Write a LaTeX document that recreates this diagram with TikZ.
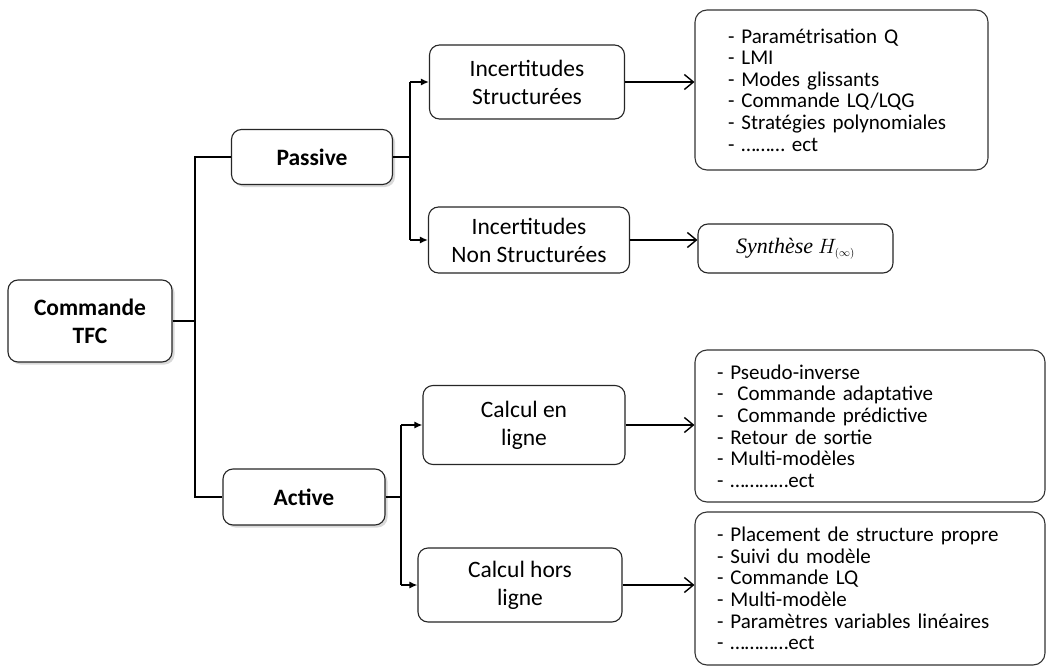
\documentclass[tikz,border=0pt]{standalone}
\usepackage{fontspec}
\setmainfont{Carlito}
\newfontfamily\serifit{Liberation Serif}
\usetikzlibrary{arrows.meta,shadows}
\begin{document}
\begin{tikzpicture}[x=1pt,y=-1pt,
  box/.style={draw=black!85, line width=1.1pt, rounded corners=10pt, fill=white,
    align=center, inner sep=0pt, font=\fontsize{23.5}{28}\selectfont},
  shadowed/.style={drop shadow={opacity=0.3, shadow xshift=2.5pt, shadow yshift=-2.5pt}},
  listbox/.style={draw=black!80, line width=1.1pt, rounded corners=12pt, fill=white,
    align=left, inner ysep=0pt, font=\fontsize{21}{21.6}\selectfont},
  link/.style={line width=1.5pt, black},
  feed/.style={link, -{Latex[length=8pt,width=7pt]}},
  lead/.style={link, -{Straight Barb[length=9pt,width=15pt,line width=1.4pt]}}
]
\useasboundingbox (0,0) rectangle (1051,671);

% root and first level
\node[box, shadowed, font=\bfseries\fontsize{23.5}{28}\selectfont,
      minimum width=164pt, minimum height=82pt] (tfc) at (90,321) {Commande\\TFC};
\node[box, shadowed, font=\bfseries\fontsize{23.5}{28}\selectfont,
      minimum width=161pt, minimum height=55pt] (passive) at (312,157) {Passive};
\node[box, shadowed, font=\bfseries\fontsize{23.5}{28}\selectfont,
      minimum width=162pt, minimum height=56pt] (active) at (304,497) {Active};

% second level
\node[box, minimum width=195pt, minimum height=74pt] (is) at (527,82) {Incertitudes\\Structurées};
\node[box, minimum width=201pt, minimum height=66pt] (ins) at (529,240) {Incertitudes\\Non Structurées};
\node[box, minimum width=202pt, minimum height=79pt] (cel) at (524,425) {Calcul en\\ligne};
\node[box, minimum width=204pt, minimum height=74pt] (chl) at (520,585) {Calcul hors\\ligne};

% method lists
\node[listbox, inner xsep=33pt, text width=227pt, minimum height=160pt] (b1) at (841.5,90) {%
- Paramétrisation Q\\
- LMI\\
- Modes glissants\\
- Commande LQ/LQG\\
- Stratégies polynomiales\\
- ……… ect};
\node[box, minimum width=195pt, minimum height=49pt, font=\fontsize{22}{24}\selectfont] (syn) at (795.5,248.5)
  {{\serifit\itshape Synthèse} $H_{\scriptscriptstyle(\infty)}$};
\node[listbox, inner xsep=22pt, text width=306pt, minimum height=152pt] (b3) at (870,426) {%
- Pseudo-inverse\\
- \ Commande adaptative\\
- \ Commande prédictive\\
- Retour de sortie\\
- Multi-modèles\\
- …………ect};
\node[listbox, inner xsep=22pt, text width=306pt, minimum height=153pt] (b4) at (870,588.5) {%
- Placement de structure propre\\
- Suivi du modèle\\
- Commande LQ\\
- Multi-modèle\\
- Paramètres variables linéaires\\
- …………ect};

% spines of the tree
\coordinate (sp1) at (195,0);
\coordinate (sp2) at (410,0);
\coordinate (sp3) at (401,0);

\draw[link] (tfc.east) -- (tfc.east -| sp1);
\draw[link] (passive.west) -- (passive.west -| sp1) -- (active.west -| sp1) -- (active.west);

\draw[link] (passive.east) -- (passive.east -| sp2);
\draw[link] (sp2 |- is.west) -- (sp2 |- ins.west);
\draw[feed] (sp2 |- is.west) -- (is.west);
\draw[feed] (sp2 |- ins.west) -- (ins.west);

\draw[link] (active.east) -- (active.east -| sp3);
\draw[link] (sp3 |- cel.west) -- (sp3 |- chl.west);
\draw[feed] (sp3 |- cel.west) -- (cel.west);
\draw[feed] (sp3 |- chl.west) -- (chl.west);

% leads to the method lists
\draw[lead] (is.east) -- (is.east -| b1.west);
\draw[lead] (ins.east) -- (ins.east -| syn.west);
\draw[lead] (cel.east) -- (cel.east -| b3.west);
\draw[lead] (chl.east) -- (chl.east -| b4.west);
\end{tikzpicture}
\end{document}
